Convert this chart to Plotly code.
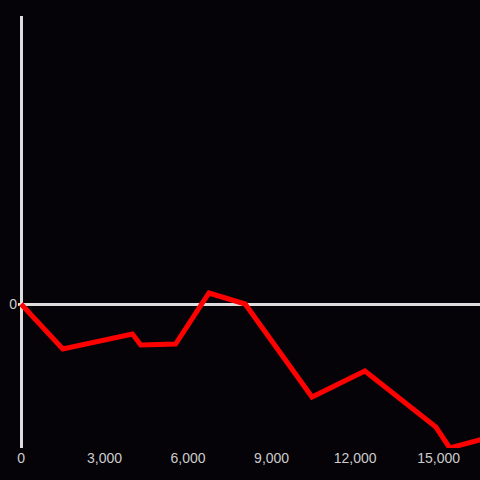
import plotly.graph_objects as go

x_vals = [0, 1500, 4000, 4300, 5550, 6750, 8050, 10450, 12350, 14900, 15400, 16600]
y_vals = [0, -45, -30, -41, -40, 11, 0, -93, -67, -123, -144, -135]
x_ticks = [0, 3000, 6000, 9000, 12000, 15000]
x_tick_text = ["0", "3,000", "6,000", "9,000", "12,000", "15,000"]

BG = "#050307"

fig = go.Figure(go.Scatter(
    x=x_vals, y=y_vals, mode="lines",
    line=dict(color="#ff0000", width=5),
    hoverinfo="skip",
))

fig.update_layout(
    width=480, height=480,
    margin=dict(l=18, r=0, t=16, b=32),
    paper_bgcolor=BG,
    plot_bgcolor=BG,
    showlegend=False,
    font=dict(color="#cccccc", size=14, family="Liberation Sans, Arial, sans-serif"),
)
fig.update_xaxes(
    range=[-110, 16485],
    showgrid=False,
    zeroline=True, zerolinecolor="#dddddd", zerolinewidth=3,
    showline=False,
    tickvals=x_ticks, ticktext=x_tick_text,
    ticks="",
    automargin=False,
)
fig.update_yaxes(
    range=[-144, 288],
    showgrid=False,
    zeroline=True, zerolinecolor="#dddddd", zerolinewidth=3,
    showline=False,
    tickvals=[0], ticktext=["0"],
    ticks="",
    automargin=False,
)

fig.write_html(
    "out.html",
    config={"displayModeBar": False},
    post_script="document.body.style.margin='0';document.body.style.background='" + BG + "';",
)
